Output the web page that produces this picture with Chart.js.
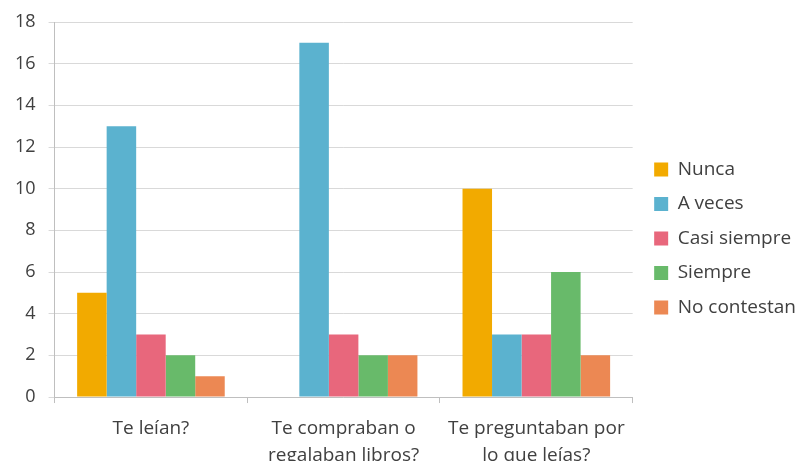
<!DOCTYPE html>
<html>
<head>
<meta charset="utf-8">
<script src="https://cdn.jsdelivr.net/npm/chart.js@4"></script>
<style>
  html, body { margin: 0; padding: 0; background: #fff; overflow: hidden; }
  #wrap { position: relative; width: 796px; height: 481px; }
</style>
</head>
<body>
<div id="wrap"><canvas id="lecturaChart"></canvas></div>
<script>
// --- data ---
const preguntas = [
  "Te leían?",
  ["Te compraban o", "regalaban libros?"],
  ["Te preguntaban por", "lo que leías?"]
];
const nunca = [5, 0, 10];
const aVeces = [13, 17, 3];
const casiSiempre = [3, 3, 3];
const siempre = [2, 2, 6];
const noContestan = [1, 2, 2];
const yTicks = [0, 2, 4, 6, 8, 10, 12, 14, 16, 18];

const font = "'Open Sans', sans-serif";
const textColor = "#404040";

function serie(label, data, color) {
  return {
    label: label,
    data: data,
    backgroundColor: color,
    borderWidth: 0,
    categoryPercentage: 0.766,
    barPercentage: 1.0
  };
}

// nudge the legend block a little (the original sits a bit higher and further right)
const legendNudge = {
  id: "legendNudge",
  afterLayout: function (chart) {
    const lg = chart.legend;
    if (!lg) return;
    lg.left += 6;
    lg.right += 6;
    lg.top -= 6;
    lg.bottom -= 6;
  }
};

new Chart(document.getElementById("lecturaChart"), {
  type: "bar",
  data: {
    labels: preguntas,
    datasets: [
      serie("Nunca", nunca, "#F2AA00"),
      serie("A veces", aVeces, "#5BB2CF"),
      serie("Casi siempre", casiSiempre, "#E8677C"),
      serie("Siempre", siempre, "#68BA6A"),
      serie("No contestan", noContestan, "#EC8853")
    ]
  },
  plugins: [legendNudge],
  options: {
    responsive: true,
    maintainAspectRatio: false,
    animation: false,
    layout: { padding: { top: 8, left: 2, right: -4, bottom: 0 } },
    plugins: {
      tooltip: { enabled: false },
      legend: {
        position: "right",
        labels: {
          boxWidth: 14,
          boxHeight: 14,
          padding: 15.5,
          color: textColor,
          font: { family: font, size: 19 }
        }
      }
    },
    scales: {
      x: {
        grid: {
          display: true,
          drawOnChartArea: false,
          offset: true,
          color: "#bfbfbf",
          tickLength: 6
        },
        border: { color: "#bfbfbf" },
        ticks: {
          color: textColor,
          padding: 12,
          maxRotation: 0,
          font: { family: font, size: 19, lineHeight: 1.42 }
        }
      },
      y: {
        min: 0,
        max: 18,
        afterBuildTicks: function (axis) {
          axis.ticks = yTicks.map(function (v) { return { value: v }; });
        },
        grid: { color: "#d9d9d9", tickLength: 6 },
        border: { color: "#bfbfbf" },
        ticks: {
          color: textColor,
          padding: 13,
          font: { family: font, size: 18, lineHeight: 1.0 }
        }
      }
    }
  }
});
</script>
</body>
</html>
